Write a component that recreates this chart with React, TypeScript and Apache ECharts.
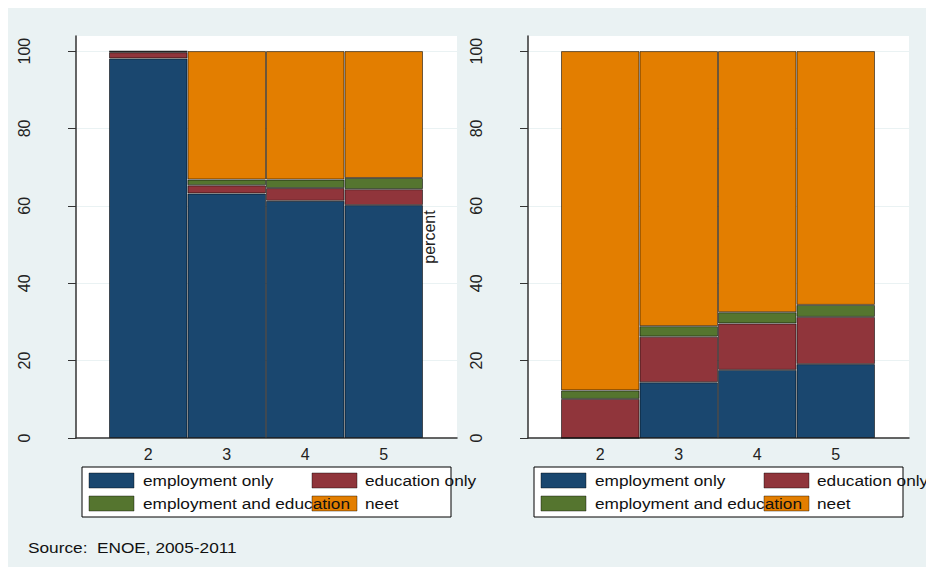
import React, { useEffect, useRef } from "react";
import * as echarts from "echarts";

const categories = ["2", "3", "4", "5"];
const seriesNames = ["employment only", "education only", "employment and education", "neet"];
const colors = ["#1A476F", "#90353B", "#55752F", "#E37E00"];

// Left panel
const leftEmploymentOnly = [98.1, 63.2, 61.3, 60.2];
const leftEducationOnly = [1.6, 2.1, 3.3, 4.1];
const leftBoth = [0.2, 1.5, 2.2, 2.9];
const leftNeet = [0.1, 33.2, 33.2, 32.8];

// Right panel
const rightEmploymentOnly = [0, 14.4, 17.6, 19.1];
const rightEducationOnly = [10.1, 11.8, 12.0, 12.2];
const rightBoth = [2.2, 2.7, 2.9, 3.1];
const rightNeet = [87.7, 71.1, 67.5, 65.6];

const yTicks = [0, 20, 40, 60, 80, 100];
const sourceNote = "Source:  ENOE, 2005-2011";
const yTitle = "percent";

const FONT = "Liberation Sans, Arial, Helvetica, sans-serif";
const BG = "#EAF2F3";
const Y_MAX = 103.9;

export default function App() {
  const ref = useRef<HTMLDivElement>(null);
  useEffect(() => {
    if (!ref.current) return;
    const chart = echarts.init(ref.current, null, { renderer: "svg" });

    const panels = [
      { data: [leftEmploymentOnly, leftEducationOnly, leftBoth, leftNeet], name: "" },
      { data: [rightEmploymentOnly, rightEducationOnly, rightBoth, rightNeet], name: yTitle },
    ];

    const V = { top: 28, bottom: 129 };
    // frame grids (0,1) and bar grids (2,3)
    const grids = [
      { left: 68, right: 477, ...V, show: true, backgroundColor: "#fff", borderWidth: 0 },
      { left: 520, right: 25, ...V, show: true, backgroundColor: "#fff", borderWidth: 0 },
      { left: 101, right: 511, ...V, show: false },
      { left: 553, right: 59, ...V, show: false },
    ];

    const frameX = [0, 1].map((i) => ({
      type: "value",
      gridIndex: i,
      min: 0,
      max: 1,
      axisLine: { show: true, onZero: false, lineStyle: { color: "#333", width: 1.5 } },
      axisTick: { show: false },
      axisLabel: { show: false },
      splitLine: { show: false },
    }));
    const barX = [2, 3].map((i) => ({
      type: "category",
      gridIndex: i,
      data: categories,
      boundaryGap: true,
      axisLine: { show: false },
      axisTick: { show: false },
      splitLine: { show: false },
      axisLabel: { color: "#222", fontSize: 16, fontFamily: FONT, margin: 8 },
    }));

    const frameY = panels.map((p, i) => ({
      type: "value",
      gridIndex: i,
      min: 0,
      max: Y_MAX,
      name: p.name,
      nameLocation: "middle",
      nameRotate: 90,
      nameGap: 91,
      nameTextStyle: { color: "#222", fontSize: 16, fontFamily: FONT },
      axisLine: { show: true, onZero: false, lineStyle: { color: "#333", width: 1.5 } },
      axisTick: { show: true, customValues: yTicks, length: 8, lineStyle: { color: "#333" } },
      splitLine: { show: true, lineStyle: { color: BG, width: 1 } },
      axisLabel: {
        customValues: yTicks,
        rotate: 90,
        formatter: (v: number) => (yTicks.includes(v) ? String(v) : ""),
        color: "#222",
        fontSize: 16,
        fontFamily: FONT,
        margin: 44,
      },
    }));
    const barY = [2, 3].map((i) => ({
      type: "value",
      gridIndex: i,
      min: 0,
      max: Y_MAX,
      axisLine: { show: false },
      axisTick: { show: false },
      axisLabel: { show: false },
      splitLine: { show: false },
    }));

    const series: any[] = [];
    panels.forEach((p, pi) => {
      p.data.forEach((vals, si) => {
        series.push({
          type: "bar",
          name: seriesNames[si],
          xAxisIndex: pi + 2,
          yAxisIndex: pi + 2,
          stack: "s" + pi,
          barWidth: "100%",
          barCategoryGap: "0%",
          data: vals,
          itemStyle: { color: colors[si], borderColor: "rgba(0,0,0,0.55)", borderWidth: 1 },
        });
      });
    });

    const legendGraphic = (ox: number) => {
      const box = { type: "rect", shape: { x: ox, y: 459, width: 369, height: 50 }, style: { fill: "#fff", stroke: "#000", lineWidth: 1 } };
      const symX = [ox + 7, ox + 230];
      const txtX = [ox + 61, ox + 283];
      const rowY = [465, 488];
      const rects: any[] = [];
      const texts: any[] = [];
      seriesNames.forEach((n, i) => {
        const col = i % 2;
        const row = Math.floor(i / 2);
        rects.push({
          type: "rect",
          shape: { x: symX[col], y: rowY[row], width: 45, height: 15 },
          style: { fill: colors[i], stroke: "rgba(0,0,0,0.4)", lineWidth: 1 },
        });
        texts.push({
          type: "text",
          x: txtX[col],
          y: rowY[row] + 7.5,
          scaleX: 1.15,
          style: { text: n, fill: "#111", fontSize: 15, fontFamily: FONT, verticalAlign: "middle", align: "left" },
        });
      });
      return [box, ...rects, ...texts];
    };

    chart.setOption({
      animation: false,
      backgroundColor: BG,
      grid: grids,
      xAxis: [...frameX, ...barX],
      yAxis: [...frameY, ...barY],
      series,
      graphic: [
        ...legendGraphic(74),
        ...legendGraphic(526),
        {
          type: "text",
          x: 20,
          y: 539,
          scaleX: 1.15,
          style: { text: sourceNote, fill: "#111", fontSize: 15, fontFamily: FONT, verticalAlign: "middle" },
        },
      ],
    });
    return () => chart.dispose();
  }, []);
  return <div ref={ref} style={{ width: 926, height: 559 }} />;
}
